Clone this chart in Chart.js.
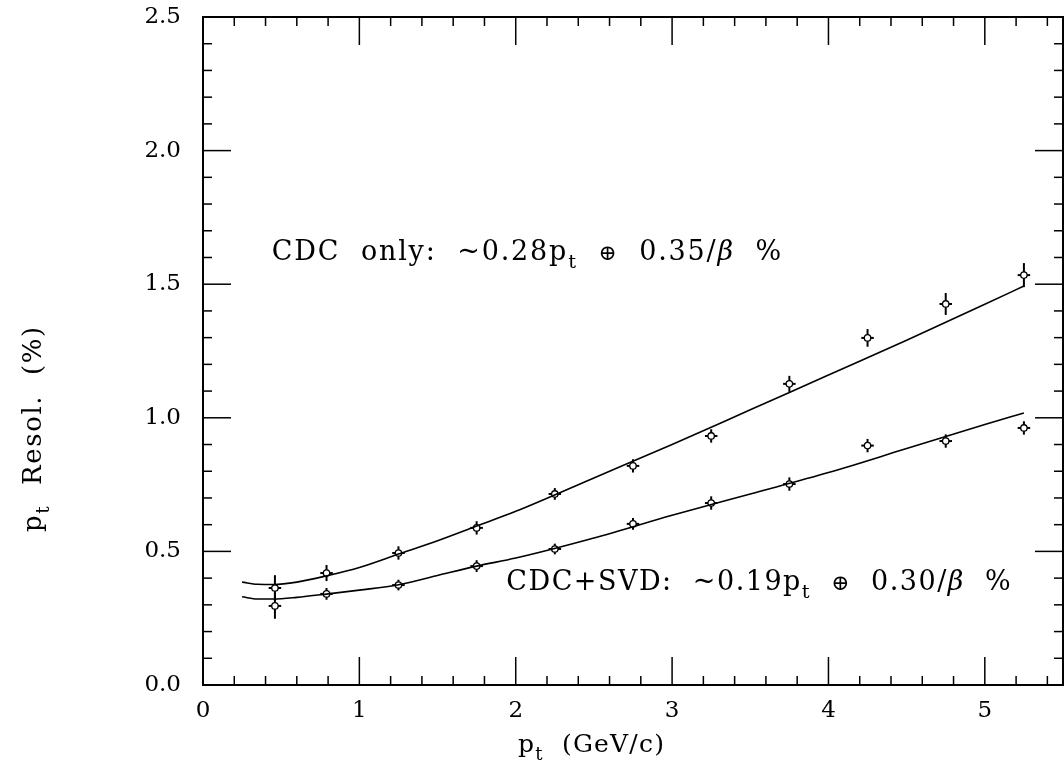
<!DOCTYPE html>
<html>
<head>
<meta charset="utf-8">
<script src="https://cdn.jsdelivr.net/npm/chart.js@4.4.1/dist/chart.umd.min.js"></script>
<style>
  body { margin: 0; background: #fff; }
  #wrap { width: 1064px; height: 769px; }
</style>
</head>
<body>
<div id="wrap"><canvas id="resChart" width="1064" height="769"></canvas></div>
<script>
// measured points (pt bins)
const ptBins = [0.46, 0.79, 1.25, 1.75, 2.25, 2.75, 3.25, 3.75, 4.25, 4.75, 5.25]
const cdcOnly = [0.363, 0.419, 0.494, 0.588, 0.715, 0.82, 0.932, 1.127, 1.299, 1.426, 1.534]
const cdcOnlyErr = [0.048, 0.03, 0.025, 0.025, 0.022, 0.025, 0.025, 0.03, 0.033, 0.041, 0.045]
const cdcSvd = [0.296, 0.341, 0.374, 0.445, 0.509, 0.603, 0.681, 0.752, 0.896, 0.913, 0.962]
const cdcSvdErr = [0.048, 0.022, 0.02, 0.022, 0.02, 0.022, 0.025, 0.025, 0.025, 0.025, 0.025]
const ptHalfWidth = 0.04

// fitted curves
const fitPt = [0.25, 0.35, 0.45, 0.6, 0.8, 1.0, 1.25, 1.5, 1.75, 2.0, 2.5, 3.0, 3.5, 4.0, 4.5, 5.0, 5.25]
const cdcFit = [0.385, 0.377, 0.376, 0.385, 0.41, 0.44, 0.49, 0.54, 0.595, 0.65, 0.775, 0.90, 1.03, 1.16, 1.29, 1.425, 1.493]
const svdFit = [0.330, 0.322, 0.322, 0.328, 0.341, 0.355, 0.375, 0.41, 0.445, 0.475, 0.55, 0.635, 0.715, 0.795, 0.885, 0.975, 1.018]

// axis ticks
const xLabels = [0, 1, 2, 3, 4, 5]
const yLabels = [0, 0.5, 1.0, 1.5, 2.0, 2.5]
const xMinorStep = 0.2
const yMinorStep = 0.1

const FONT = "'DejaVu Serif', 'Liberation Serif', serif"

function toPoints(xs, ys) {
    return xs.map((v, i) => ({ x: v, y: ys[i] }))
}

function line(ctx, x1, y1, x2, y2) {
    ctx.beginPath()
    ctx.moveTo(x1, y1)
    ctx.lineTo(x2, y2)
    ctx.stroke()
}

// draw text made of pieces, some of them subscripts
function drawPieces(ctx, x, y, pieces, size) {
    let cx = x
    pieces.forEach(p => {
        const s = p.sub ? size * 0.72 : (p.small ? size * 0.8 : size)
        ctx.font = (p.italic ? 'italic ' : '') + s + 'px ' + FONT
        const dy = p.sub ? size * 0.3 : 0
        ctx.fillText(p.t, cx, y + dy)
        cx += ctx.measureText(p.t).width
    })
}

function noPadding(s) {
    s.paddingLeft = 0
    s.paddingRight = 0
    s.paddingTop = 0
    s.paddingBottom = 0
}

const errorBars = {
    id: 'errorBars',
    beforeDatasetsDraw(chart) {
        const { ctx, scales: { x, y } } = chart
        ctx.save()
        ctx.strokeStyle = '#000'
        ctx.lineWidth = 2
        ;[[cdcOnly, cdcOnlyErr], [cdcSvd, cdcSvdErr]].forEach(([vals, errs]) => {
            ptBins.forEach((pt, i) => {
                const px = x.getPixelForValue(pt)
                const py = y.getPixelForValue(vals[i])
                line(ctx, px, y.getPixelForValue(vals[i] - errs[i]), px, y.getPixelForValue(vals[i] + errs[i]))
                line(ctx, x.getPixelForValue(pt - ptHalfWidth), py, x.getPixelForValue(pt + ptHalfWidth), py)
            })
        })
        ctx.restore()
    }
}

const frameTicks = {
    id: 'frameTicks',
    afterDraw(chart) {
        const { ctx, chartArea: a, scales: { x, y } } = chart
        ctx.save()
        ctx.strokeStyle = '#000'
        ctx.lineWidth = 2
        ctx.strokeRect(a.left, a.top, a.right - a.left, a.bottom - a.top)
        ctx.lineWidth = 1.5
        for (let k = 1; k * xMinorStep < 5.5 - 1e-9; k++) {
            const v = k * xMinorStep
            const len = Math.abs(v - Math.round(v)) < 1e-9 ? 28 : 9
            const px = x.getPixelForValue(v)
            line(ctx, px, a.bottom, px, a.bottom - len)
            line(ctx, px, a.top, px, a.top + len)
        }
        for (let k = 1; k * yMinorStep < 2.5 - 1e-9; k++) {
            const v = k * yMinorStep
            const len = k % 5 === 0 ? 28 : 9
            const py = y.getPixelForValue(v)
            line(ctx, a.left, py, a.left + len, py)
            line(ctx, a.right, py, a.right - len, py)
        }

        // texts
        ctx.fillStyle = '#000'
        ctx.textBaseline = 'alphabetic'
        ctx.textAlign = 'left'
        if ('letterSpacing' in ctx) ctx.letterSpacing = '1.8px'
        drawPieces(ctx, x.getPixelForValue(0.44), y.getPixelForValue(1.59), [
            { t: 'CDC  only:  ~0.28p' }, { t: 't', sub: true }, { t: '  ' }, { t: '⊕', small: true },
            { t: '  0.35/' }, { t: 'β', italic: true }, { t: '  %' }
        ], 27)
        if ('letterSpacing' in ctx) ctx.letterSpacing = '1.5px'
        drawPieces(ctx, x.getPixelForValue(1.94), y.getPixelForValue(0.355), [
            { t: 'CDC+SVD:  ~0.19p' }, { t: 't', sub: true }, { t: '  ' }, { t: '⊕', small: true },
            { t: '  0.30/' }, { t: 'β', italic: true }, { t: '  %' }
        ], 27)

        // axis titles
        if ('letterSpacing' in ctx) ctx.letterSpacing = '1.2px'
        drawPieces(ctx, 518, 752, [{ t: 'p' }, { t: 't', sub: true }, { t: '  (GeV/c)' }], 25)
        if ('letterSpacing' in ctx) ctx.letterSpacing = '1.6px'
        ctx.translate(41, 532)
        ctx.rotate(-Math.PI / 2)
        drawPieces(ctx, 0, 0, [{ t: 'p' }, { t: 't', sub: true }, { t: '  Resol.  (%)' }], 26)
        ctx.restore()
    }
}

new Chart(document.getElementById('resChart'), {
    type: 'scatter',
    data: {
        datasets: [
            {
                label: 'CDC only fit', data: toPoints(fitPt, cdcFit), showLine: true,
                borderColor: '#000', borderWidth: 1.6, pointRadius: 0, cubicInterpolationMode: 'monotone'
            },
            {
                label: 'CDC+SVD fit', data: toPoints(fitPt, svdFit), showLine: true,
                borderColor: '#000', borderWidth: 1.6, pointRadius: 0, cubicInterpolationMode: 'monotone'
            },
            {
                label: 'CDC only', data: toPoints(ptBins, cdcOnly),
                pointRadius: 3.2, pointBorderWidth: 1.3, borderColor: '#000', backgroundColor: '#fff'
            },
            {
                label: 'CDC+SVD', data: toPoints(ptBins, cdcSvd),
                pointRadius: 3.2, pointBorderWidth: 1.3, borderColor: '#000', backgroundColor: '#fff'
            }
        ]
    },
    options: {
        responsive: false,
        animation: false,
        layout: { autoPadding: false, padding: { top: 17, right: 1, left: 0, bottom: 0 } },
        plugins: { legend: { display: false }, tooltip: { enabled: false } },
        scales: {
            x: {
                type: 'linear', min: 0, max: 5.5,
                grid: { display: false, drawTicks: false },
                border: { display: false },
                ticks: { padding: 12, color: '#000', font: { family: FONT, size: 23 }, callback: v => String(v) },
                afterBuildTicks: s => { s.ticks = xLabels.map(v => ({ value: v })) },
                afterFit: s => { s.height = 84; noPadding(s) }
            },
            y: {
                type: 'linear', min: 0, max: 2.5,
                grid: { display: false, drawTicks: false },
                border: { display: false },
                ticks: { padding: 22, color: '#000', font: { family: FONT, size: 23 }, callback: v => v.toFixed(1) },
                afterBuildTicks: s => { s.ticks = yLabels.map(v => ({ value: v })) },
                afterFit: s => { s.width = 203; noPadding(s) }
            }
        }
    },
    plugins: [errorBars, frameTicks]
})
</script>
</body>
</html>
